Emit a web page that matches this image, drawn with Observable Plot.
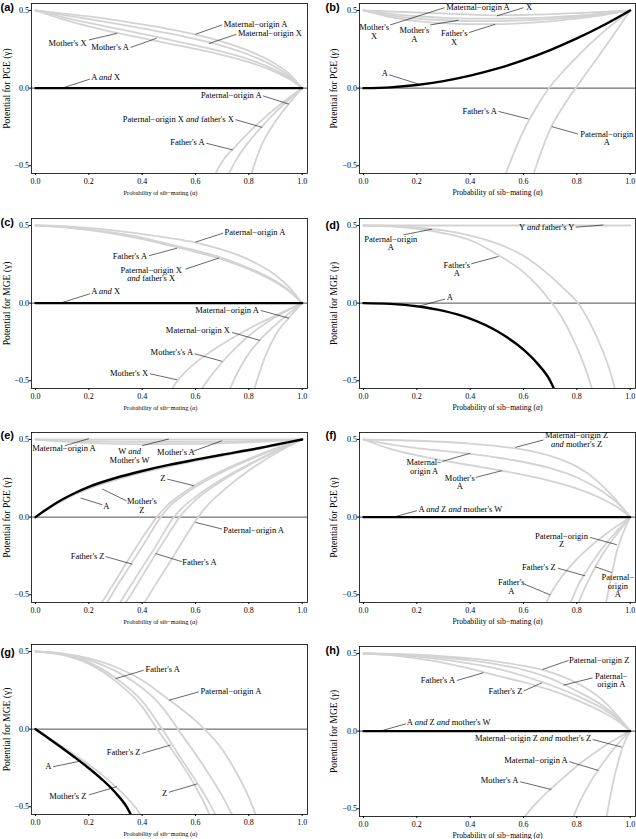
<!DOCTYPE html>
<html><head><meta charset="utf-8">
<script src="https://cdn.jsdelivr.net/npm/d3@7"></script>
<script src="https://cdn.jsdelivr.net/npm/@observablehq/plot@0.6"></script>
<style>
body{margin:0;background:#fff;}
#fig{position:relative;width:636px;height:839px;overflow:hidden;background:#fff;}
#fig svg{position:absolute;}
</style></head><body><div id="fig"></div>
<script>
// ---------- axis ticks ----------
const xTicks = [0, 0.2, 0.4, 0.6, 0.8, 1.0];
const yTicks = [-0.5, 0, 0.5];

// ---------- (a) PGE ----------
const aMaternalOriginA = [[0,0.5],[0.1,0.482],[0.2,0.462],[0.3,0.438],[0.4,0.41],[0.5,0.38],[0.6,0.345],[0.7,0.3],[0.8,0.24],[0.9,0.155],[0.95,0.095],[1,0]];
const aMaternalOriginX = [[0,0.5],[0.1,0.472],[0.2,0.445],[0.3,0.415],[0.4,0.385],[0.5,0.352],[0.6,0.315],[0.7,0.272],[0.8,0.215],[0.9,0.135],[0.95,0.08],[1,0]];
const aMothersA = [[0,0.5],[0.1,0.458],[0.2,0.42],[0.3,0.385],[0.4,0.35],[0.5,0.312],[0.6,0.275],[0.7,0.235],[0.8,0.185],[0.9,0.115],[0.95,0.068],[1,0]];
const aMothersX = [[0,0.5],[0.1,0.445],[0.2,0.398],[0.3,0.358],[0.4,0.322],[0.5,0.287],[0.6,0.252],[0.7,0.213],[0.8,0.167],[0.9,0.103],[0.95,0.06],[1,0]];
const aPaternalOriginA = [[0.8,-0.6],[0.81,-0.55],[0.825,-0.47],[0.85,-0.36],[0.9,-0.215],[0.95,-0.1],[1,0]];
const aPaternalOriginX = [[0.72,-0.57],[0.73,-0.535],[0.75,-0.47],[0.8,-0.345],[0.85,-0.245],[0.9,-0.155],[0.95,-0.075],[1,0]];
const aFathersA = [[0.67,-0.57],[0.68,-0.535],[0.7,-0.475],[0.75,-0.375],[0.8,-0.285],[0.85,-0.205],[0.9,-0.13],[0.95,-0.062],[1,0]];
const aAandX = [[0,0],[1,0]];

// ---------- (b) PGE ----------
const bX = [[0,0.5],[0.2,0.487],[0.4,0.474],[0.5,0.469],[0.6,0.471],[0.8,0.483],[1,0.5]];
const bMaternalOriginA = [[0,0.5],[0.1,0.478],[0.2,0.463],[0.3,0.453],[0.4,0.448],[0.5,0.447],[0.6,0.45],[0.7,0.456],[0.8,0.466],[0.9,0.481],[1,0.5]];
const bMothersA = [[0,0.5],[0.1,0.468],[0.2,0.448],[0.3,0.437],[0.4,0.432],[0.5,0.432],[0.6,0.436],[0.7,0.445],[0.8,0.458],[0.9,0.476],[1,0.5]];
const bFathersX = [[0,0.5],[0.1,0.458],[0.2,0.432],[0.3,0.418],[0.4,0.412],[0.5,0.412],[0.6,0.418],[0.7,0.43],[0.8,0.447],[0.9,0.47],[1,0.5]];
const bFathersA = [[0.53,-0.57],[0.545,-0.5],[0.575,-0.37],[0.6,-0.275],[0.65,-0.12],[0.7,0.01],[0.75,0.11],[0.8,0.2],[0.85,0.285],[0.9,0.362],[0.95,0.433],[1,0.5]];
const bPaternalOriginA = [[0.635,-0.57],[0.65,-0.49],[0.675,-0.37],[0.7,-0.265],[0.75,-0.115],[0.8,0.01],[0.85,0.13],[0.9,0.25],[0.95,0.375],[1,0.5]];
const bA = [[0,0],[0.1,0.005],[0.2,0.02],[0.3,0.045],[0.4,0.08],[0.5,0.125],[0.6,0.18],[0.7,0.245],[0.8,0.32],[0.9,0.405],[1,0.5]];

// ---------- (c) MGE ----------
const cPaternalOriginA = [[0,0.5],[0.1,0.496],[0.2,0.484],[0.3,0.467],[0.4,0.445],[0.5,0.42],[0.6,0.39],[0.7,0.345],[0.8,0.28],[0.9,0.18],[0.95,0.105],[1,0]];
const cFathersA = [[0,0.5],[0.1,0.492],[0.2,0.475],[0.3,0.452],[0.4,0.422],[0.5,0.38],[0.6,0.34],[0.7,0.292],[0.8,0.226],[0.9,0.142],[0.95,0.083],[1,0]];
const cPaternalOriginX = [[0,0.5],[0.1,0.49],[0.2,0.47],[0.3,0.445],[0.4,0.412],[0.5,0.372],[0.6,0.33],[0.7,0.282],[0.8,0.218],[0.9,0.135],[0.95,0.078],[1,0]];
const cMaternalOriginA = [[0.815,-0.58],[0.83,-0.5],[0.86,-0.35],[0.9,-0.205],[0.95,-0.095],[1,0]];
const cMaternalOriginX = [[0.72,-0.59],[0.735,-0.53],[0.76,-0.44],[0.8,-0.325],[0.84,-0.24],[0.9,-0.14],[0.95,-0.068],[1,0]];
const cMothersA = [[0.615,-0.58],[0.63,-0.535],[0.66,-0.465],[0.7,-0.38],[0.75,-0.29],[0.8,-0.21],[0.85,-0.145],[0.9,-0.09],[0.95,-0.042],[1,0]];
const cMothersX = [[0.505,-0.58],[0.52,-0.53],[0.55,-0.465],[0.6,-0.385],[0.7,-0.265],[0.8,-0.165],[0.9,-0.08],[1,0]];
const cAandX = [[0,0],[1,0]];

// ---------- (d) MGE ----------
const dYandFathersY = [[0,0.5],[1,0.5]];
const dPaternalOriginA = [[0,0.5],[0.1,0.497],[0.2,0.487],[0.3,0.468],[0.4,0.435],[0.5,0.385],[0.6,0.305],[0.7,0.175],[0.75,0.095],[0.8,0.01],[0.85,-0.13],[0.9,-0.32],[0.93,-0.47],[0.945,-0.57]];
const dFathersA = [[0,0.5],[0.1,0.494],[0.2,0.478],[0.3,0.45],[0.4,0.405],[0.5,0.315],[0.6,0.2],[0.65,0.118],[0.7,0.015],[0.75,-0.11],[0.8,-0.285],[0.84,-0.46],[0.86,-0.57]];
const dA = [[0,0],[0.1,-0.005],[0.2,-0.02],[0.3,-0.05],[0.4,-0.1],[0.5,-0.18],[0.6,-0.3],[0.65,-0.385],[0.7,-0.5],[0.72,-0.575]];

// ---------- (e) PGE ----------
const eWandMothersW = [[0,0.5],[1,0.5]];
const eMaternalOriginA = [[0,0.5],[0.2,0.49],[0.4,0.485],[0.6,0.485],[0.8,0.49],[1,0.5]];
const eMothersA = [[0,0.5],[0.2,0.478],[0.4,0.47],[0.6,0.472],[0.8,0.482],[1,0.5]];
const eMothersZ = [[0,0],[0.05,0.055],[0.1,0.104],[0.15,0.147],[0.2,0.183],[0.3,0.24],[0.4,0.286],[0.5,0.326],[0.6,0.361],[0.7,0.394],[0.8,0.426],[0.9,0.462],[1,0.5]];
const eZ = [[0.245,-0.56],[0.3,-0.41],[0.35,-0.27],[0.4,-0.135],[0.455,0],[0.5,0.085],[0.55,0.15],[0.6,0.208],[0.7,0.3],[0.8,0.375],[0.9,0.443],[1,0.5]];
const eFathersZ = [[0.26,-0.575],[0.3,-0.46],[0.35,-0.325],[0.4,-0.19],[0.47,0],[0.5,0.065],[0.55,0.135],[0.6,0.195],[0.7,0.29],[0.8,0.368],[0.9,0.438],[1,0.5]];
const eFathersW = [[0.31,-0.57],[0.35,-0.46],[0.4,-0.325],[0.45,-0.19],[0.519,0],[0.55,0.06],[0.6,0.13],[0.7,0.245],[0.8,0.34],[0.9,0.425],[1,0.5]];
const eFathersA = [[0.33,-0.57],[0.35,-0.52],[0.4,-0.38],[0.45,-0.24],[0.5,-0.105],[0.54,0],[0.6,0.11],[0.7,0.235],[0.8,0.335],[0.9,0.422],[1,0.5]];
const ePaternalOriginA = [[0.4,-0.575],[0.45,-0.435],[0.5,-0.3],[0.55,-0.16],[0.61,0],[0.65,0.085],[0.7,0.165],[0.8,0.3],[0.9,0.41],[1,0.5]];
const eA = [[0,0],[0.05,0.06],[0.1,0.113],[0.15,0.157],[0.2,0.195],[0.3,0.252],[0.4,0.297],[0.5,0.336],[0.6,0.37],[0.7,0.402],[0.8,0.432],[0.9,0.466],[1,0.5]];

// ---------- (f) PGE ----------
const fMaternalOriginZ = [[0,0.5],[0.2,0.492],[0.4,0.474],[0.5,0.458],[0.6,0.435],[0.7,0.395],[0.8,0.325],[0.85,0.27],[0.9,0.195],[0.95,0.105],[1,0]];
const fMaternalOriginA = [[0,0.5],[0.1,0.468],[0.2,0.445],[0.3,0.426],[0.4,0.407],[0.5,0.384],[0.6,0.355],[0.7,0.315],[0.8,0.255],[0.9,0.16],[0.95,0.095],[1,0]];
const fMothersA = [[0,0.5],[0.1,0.44],[0.2,0.398],[0.3,0.364],[0.4,0.334],[0.5,0.305],[0.6,0.272],[0.7,0.233],[0.8,0.183],[0.9,0.113],[0.95,0.066],[1,0]];
const fFathersA = [[0.675,-0.58],[0.69,-0.535],[0.7,-0.5],[0.75,-0.37],[0.8,-0.27],[0.85,-0.19],[0.9,-0.12],[0.95,-0.058],[1,0]];
const fFathersZ = [[0.77,-0.58],[0.78,-0.54],[0.8,-0.455],[0.83,-0.365],[0.87,-0.26],[0.9,-0.19],[0.95,-0.09],[1,0]];
const fPaternalOriginA = [[0.8,-0.58],[0.81,-0.535],[0.84,-0.42],[0.87,-0.32],[0.9,-0.23],[0.95,-0.11],[1,0]];
const fPaternalOriginZ = [[0.905,-0.58],[0.912,-0.53],[0.92,-0.46],[0.93,-0.375],[0.94,-0.295],[0.95,-0.22],[0.965,-0.14],[0.98,-0.075],[1,0]];
const fAandZ = [[0,0],[1,0]];

// ---------- (g) MGE ----------
const gFathersZ = [[0,0.5],[0.1,0.478],[0.2,0.42],[0.3,0.31],[0.4,0.145],[0.456,0],[0.5,-0.105],[0.55,-0.23],[0.6,-0.37],[0.65,-0.54],[0.66,-0.58]];
const gZ = [[0,0.5],[0.1,0.482],[0.2,0.43],[0.3,0.33],[0.4,0.18],[0.475,0],[0.5,-0.065],[0.55,-0.2],[0.6,-0.33],[0.65,-0.47],[0.68,-0.57]];
const gFathersA = [[0,0.5],[0.1,0.485],[0.2,0.445],[0.3,0.375],[0.4,0.265],[0.45,0.19],[0.5,0.085],[0.534,0],[0.6,-0.16],[0.65,-0.29],[0.7,-0.43],[0.74,-0.56]];
const gPaternalOriginA = [[0,0.5],[0.1,0.488],[0.2,0.455],[0.3,0.4],[0.4,0.315],[0.5,0.19],[0.55,0.125],[0.6,0.055],[0.634,0],[0.7,-0.13],[0.75,-0.27],[0.8,-0.44],[0.83,-0.57]];
const gMothersZ = [[0,0],[0.05,-0.056],[0.1,-0.112],[0.15,-0.17],[0.2,-0.23],[0.25,-0.295],[0.3,-0.37],[0.35,-0.455],[0.39,-0.54],[0.4,-0.57]];
const gA = [[0,0],[0.05,-0.06],[0.1,-0.122],[0.15,-0.185],[0.2,-0.252],[0.25,-0.325],[0.3,-0.41],[0.35,-0.525],[0.36,-0.56]];

// ---------- (h) MGE ----------
const hPaternalOriginZ = [[0,0.5],[0.2,0.492],[0.4,0.468],[0.5,0.448],[0.6,0.42],[0.7,0.38],[0.8,0.31],[0.85,0.26],[0.9,0.195],[0.95,0.105],[1,0]];
const hPaternalOriginA = [[0,0.5],[0.2,0.487],[0.4,0.455],[0.5,0.43],[0.6,0.395],[0.7,0.34],[0.75,0.302],[0.8,0.258],[0.9,0.16],[0.95,0.093],[1,0]];
const hFathersZ = [[0,0.5],[0.2,0.48],[0.4,0.435],[0.5,0.403],[0.6,0.355],[0.67,0.315],[0.7,0.297],[0.8,0.228],[0.9,0.142],[0.95,0.083],[1,0]];
const hFathersA = [[0,0.5],[0.1,0.49],[0.2,0.468],[0.3,0.44],[0.4,0.402],[0.45,0.38],[0.5,0.358],[0.6,0.315],[0.7,0.265],[0.8,0.2],[0.9,0.12],[0.95,0.07],[1,0]];
const hMaternalOriginZ = [[0.905,-0.6],[0.913,-0.54],[0.92,-0.47],[0.93,-0.38],[0.94,-0.3],[0.955,-0.2],[0.97,-0.11],[0.985,-0.05],[1,0]];
const hMaternalOriginA = [[0.78,-0.59],[0.79,-0.54],[0.81,-0.46],[0.85,-0.33],[0.88,-0.25],[0.92,-0.155],[0.96,-0.07],[1,0]];
const hMothersA = [[0.595,-0.58],[0.61,-0.54],[0.65,-0.46],[0.7,-0.375],[0.75,-0.3],[0.8,-0.225],[0.85,-0.16],[0.9,-0.1],[0.95,-0.048],[1,0]];
const hAandZ = [[0,0],[1,0]];

// ---------- annotations (data coordinates) ----------
const aLabels = [
 {text:"Maternal−origin A", x:0.706, y:0.411, anchor:"start"},
 {text:"Maternal−origin X", x:0.759, y:0.351, anchor:"start"},
 {text:"Mother's X", x:0.192, y:0.289, anchor:"end"},
 {text:"Mother's A", x:0.35, y:0.261, anchor:"end"},
 {text:"A and X", x:0.209, y:0.073, anchor:"start"},
 {text:"Paternal−origin A", x:0.848, y:-0.045, anchor:"end"},
 {text:"Paternal−origin X and father's X", x:0.744, y:-0.199, anchor:"end"},
 {text:"Father's A", x:0.634, y:-0.349, anchor:"end"}];
const aPointers = [[0.7,0.407,0.6,0.347],[0.754,0.347,0.65,0.287],[0.2,0.31,0.306,0.353],[0.357,0.262,0.454,0.321],[0.204,0.058,0.1,0],[0.853,-0.05,0.95,-0.103],[0.75,-0.203,0.85,-0.253],[0.64,-0.355,0.74,-0.398]];

const bLabels = [
 {text:"Maternal−origin A", x:0.31, y:0.522, anchor:"start"},
 {text:"Mother's\nX", x:0.04, y:0.39, anchor:"middle"},
 {text:"Mother's\nA", x:0.191, y:0.373, anchor:"middle"},
 {text:"Father's\nX", x:0.34, y:0.351, anchor:"middle"},
 {text:"X", x:0.609, y:0.522, anchor:"start"},
 {text:"A", x:0.091, y:0.094, anchor:"end"},
 {text:"Father's A", x:0.5, y:-0.146, anchor:"end"},
 {text:"Paternal−origin\nA", x:0.9125, y:-0.296, anchor:"middle"}];
const bPointers = [[0.304,0.518,0.1,0.407],[0.25,0.407,0.356,0.437],[0.396,0.358,0.494,0.411],[0.6,0.518,0.5,0.465],[0.096,0.086,0.206,0.026],[0.506,-0.15,0.619,-0.199],[0.804,-0.296,0.706,-0.248]];

const cLabels = [
 {text:"Paternal−origin A", x:0.709, y:0.455, anchor:"start"},
 {text:"Father's A", x:0.419, y:0.3, anchor:"end"},
 {text:"Paternal−origin X\nand father's X", x:0.434, y:0.215, anchor:"middle"},
 {text:"A and X", x:0.209, y:0.075, anchor:"start"},
 {text:"Maternal−origin A", x:0.8375, y:-0.043, anchor:"end"},
 {text:"Maternal−origin X", x:0.729, y:-0.172, anchor:"end"},
 {text:"Mother's's A", x:0.591, y:-0.318, anchor:"end"},
 {text:"Mother's X", x:0.4225, y:-0.451, anchor:"end"}];
const cPointers = [[0.704,0.451,0.6,0.393],[0.425,0.305,0.531,0.354],[0.5625,0.219,0.6875,0.29],[0.204,0.06,0.1,0.004],[0.844,-0.047,0.95,-0.097],[0.7375,-0.189,0.841,-0.24],[0.596,-0.326,0.7,-0.375],[0.429,-0.455,0.531,-0.494]];

const dLabels = [
 {text:"Paternal−origin\nA", x:0.1025, y:0.412, anchor:"middle"},
 {text:"Y and father's Y", x:0.791, y:0.489, anchor:"end"},
 {text:"Father's\nA", x:0.35, y:0.247, anchor:"middle"},
 {text:"A", x:0.3125, y:0.039, anchor:"start"}];
const dPointers = [[0.15,0.44,0.256,0.476],[0.796,0.489,0.9,0.503],[0.404,0.253,0.506,0.3],[0.306,0.026,0.206,-0.021]];

const eLabels = [
 {text:"Maternal−origin A", x:-0.0125, y:0.445, anchor:"start"},
 {text:"W and\nMother's W", x:0.3525, y:0.424, anchor:"middle"},
 {text:"Mother's A", x:0.456, y:0.417, anchor:"start"},
 {text:"Z", x:0.4875, y:0.252, anchor:"end"},
 {text:"Mother's\nZ", x:0.399, y:0.101, anchor:"middle"},
 {text:"A", x:0.254, y:0.073, anchor:"start"},
 {text:"Paternal−origin A", x:0.704, y:-0.084, anchor:"start"},
 {text:"Father's Z", x:0.259, y:-0.249, anchor:"end"},
 {text:"Father's A", x:0.55, y:-0.292, anchor:"start"}];
const ePointers = [[0.11,0.46,0.2,0.505],[0.4,0.46,0.5,0.503],[0.591,0.424,0.7,0.492],[0.494,0.245,0.594,0.202],[0.341,0.105,0.25,0.181],[0.25,0.08,0.169,0.123],[0.7,-0.077,0.6,-0.034],[0.2625,-0.254,0.3625,-0.303],[0.55,-0.288,0.45,-0.234]];

const fLabels = [
 {text:"Maternal−origin Z\nand mother's Z", x:0.799, y:0.525, anchor:"middle"},
 {text:"Maternal−\norigin A", x:0.2275, y:0.353, anchor:"middle"},
 {text:"Mother's\nA", x:0.361, y:0.252, anchor:"middle"},
 {text:"A and Z and mother's W", x:0.206, y:0.052, anchor:"start"},
 {text:"Paternal−origin\nZ", x:0.7425, y:-0.12, anchor:"middle"},
 {text:"Father's Z", x:0.721, y:-0.325, anchor:"end"},
 {text:"Father's\nA", x:0.554, y:-0.422, anchor:"middle"},
 {text:"Paternal−\norigin\nA", x:0.954, y:-0.389, anchor:"middle"}];
const fPointers = [[0.675,0.497,0.569,0.449],[0.296,0.359,0.4,0.411],[0.421,0.256,0.519,0.299],[0.2,0.041,0.1125,0],[0.85,-0.131,0.95,-0.178],[0.729,-0.329,0.831,-0.378],[0.604,-0.432,0.7,-0.501],[0.931,-0.357,0.869,-0.32]];

const gLabels = [
 {text:"Father's A", x:0.4125, y:0.383, anchor:"start"},
 {text:"Paternal−origin A", x:0.619, y:0.244, anchor:"start"},
 {text:"Father's Z", x:0.394, y:-0.152, anchor:"end"},
 {text:"A", x:0.06, y:-0.242, anchor:"end"},
 {text:"Mother's Z", x:0.191, y:-0.43, anchor:"end"},
 {text:"Z", x:0.494, y:-0.413, anchor:"end"}];
const gPointers = [[0.406,0.379,0.3,0.325],[0.6125,0.24,0.5,0.186],[0.4,-0.156,0.506,-0.103],[0.066,-0.242,0.169,-0.206],[0.2,-0.424,0.306,-0.37],[0.5,-0.407,0.606,-0.353]];

const hLabels = [
 {text:"Paternal−origin Z", x:0.771, y:0.455, anchor:"start"},
 {text:"Paternal−\norigin A", x:0.929, y:0.354, anchor:"middle"},
 {text:"Father's A", x:0.344, y:0.326, anchor:"end"},
 {text:"Father's Z", x:0.596, y:0.258, anchor:"end"},
 {text:"A and Z and mother's W", x:0.1625, y:0.058, anchor:"start"},
 {text:"Maternal−origin Z and mother's Z", x:0.854, y:-0.047, anchor:"end"},
 {text:"Maternal−origin A", x:0.766, y:-0.189, anchor:"end"},
 {text:"Mother's A", x:0.581, y:-0.318, anchor:"end"}];
const hPointers = [[0.769,0.455,0.671,0.397],[0.859,0.343,0.75,0.296],[0.35,0.326,0.45,0.376],[0.6,0.258,0.669,0.311],[0.159,0.047,0.0625,0],[0.859,-0.054,0.969,-0.103],[0.771,-0.197,0.881,-0.253],[0.5875,-0.326,0.704,-0.376]];

// ---------- panel table ----------
const PGE = "Potential for PGE (γ)", MGE = "Potential for MGE (γ)", XT = "Probability of sib−mating (α)";
const panels = [
 {id:"a", col:0, top:3,    yTitle:PGE, it:false, labDy:4.3, gray:[aMaternalOriginA,aMaternalOriginX,aMothersA,aMothersX,aPaternalOriginA,aPaternalOriginX,aFathersA], black:[aAandX], labels:aLabels, pointers:aPointers},
 {id:"b", col:1, top:3,    yTitle:PGE, it:true,  labDy:4,   gray:[bX,bMaternalOriginA,bMothersA,bFathersX,bFathersA,bPaternalOriginA], black:[bA], labels:bLabels, pointers:bPointers},
 {id:"c", col:0, top:218,  yTitle:MGE, it:false, labDy:4.3, gray:[cPaternalOriginA,cFathersA,cPaternalOriginX,cMaternalOriginA,cMaternalOriginX,cMothersA,cMothersX], black:[cAandX], labels:cLabels, pointers:cPointers},
 {id:"d", col:1, top:218,  yTitle:MGE, it:true,  labDy:7,   gray:[dYandFathersY,dPaternalOriginA,dFathersA], black:[dA], labels:dLabels, pointers:dPointers},
 {id:"e", col:0, top:432,  yTitle:PGE, it:false, labDy:2.7, gray:[eWandMothersW,eMaternalOriginA,eMothersA,eMothersZ,eZ,eFathersZ,eFathersW,eFathersA,ePaternalOriginA], black:[eA], labels:eLabels, pointers:ePointers},
 {id:"f", col:1, top:432,  yTitle:PGE, it:false, labDy:3,   gray:[fMaternalOriginZ,fMaternalOriginA,fMothersA,fFathersA,fFathersZ,fPaternalOriginA,fPaternalOriginZ], black:[fAandZ], labels:fLabels, pointers:fPointers},
 {id:"g", col:0, top:644,  yTitle:MGE, it:false, labDy:8,   gray:[gFathersZ,gZ,gFathersA,gPaternalOriginA,gMothersZ], black:[gA], labels:gLabels, pointers:gPointers},
 {id:"h", col:1, top:645.5,yTitle:MGE, it:true,  labDy:3.8, gray:[hPaternalOriginZ,hPaternalOriginA,hFathersZ,hFathersA,hMaternalOriginZ,hMaternalOriginA,hMothersA], black:[hAandZ], labels:hLabels, pointers:hPointers}
];

const GRAY = "#d3d3d3";
const SERIF = "'Liberation Serif', 'Times New Roman', serif";
const fig = document.getElementById("fig");

function italicize(svg, greek) {
  const pat = greek ? /(\band\b|[γα])/ : /(\band\b)/;
  const targets = [];
  svg.querySelectorAll("text").forEach(t => {
    const ts = t.querySelectorAll("tspan");
    if (ts.length) ts.forEach(s => targets.push(s)); else targets.push(t);
  });
  targets.forEach(el => {
    const s = el.textContent;
    if (!pat.test(s)) return;
    const parts = s.split(pat);
    while (el.firstChild) el.removeChild(el.firstChild);
    parts.forEach((part, i) => {
      if (!part) return;
      if (i % 2 === 1) {
        const sp = document.createElementNS("http://www.w3.org/2000/svg", "tspan");
        sp.setAttribute("font-style", "italic");
        sp.textContent = part;
        el.appendChild(sp);
      } else el.appendChild(document.createTextNode(part));
    });
  });
}

const rows = arr => arr.map(([x, y]) => ({x, y}));

panels.forEach(p => {
  const left = p.col === 0;
  const mL = left ? 31 : 41, mR = left ? 11 : 1;
  const marks = [];
  marks.push(Plot.ruleY([0], {stroke: "black", strokeWidth: 0.7}));
  p.gray.forEach(c => marks.push(Plot.line(rows(c), {x: "x", y: "y", stroke: GRAY, strokeWidth: 1.8, curve: "monotone-x", clip: true})));
  p.black.forEach(c => marks.push(Plot.line(rows(c), {x: "x", y: "y", stroke: "black", strokeWidth: 2.4, curve: "monotone-x", clip: true})));
  marks.push(Plot.link(p.pointers, {x1: d => d[0], y1: d => d[1], x2: d => d[2], y2: d => d[3], stroke: "black", strokeWidth: 0.6}));
  ["start", "end", "middle"].forEach(anchor => {
    const single = p.labels.filter(d => d.anchor === anchor && !d.text.includes("\n"));
    const multi = p.labels.filter(d => d.anchor === anchor && d.text.includes("\n"));
    if (single.length) marks.push(Plot.text(single, {x: "x", y: "y", text: "text", textAnchor: anchor, lineAnchor: "middle", fontSize: 8.5, fill: "black"}));
    if (multi.length) marks.push(Plot.text(multi, {x: "x", y: "y", text: "text", textAnchor: anchor, lineAnchor: "top", dy: -3.2, lineHeight: 1.0, fontSize: 8.5, fill: "black"}));
  });
  marks.push(Plot.frame({stroke: "black", strokeWidth: 0.8}));
  marks.push(Plot.axisX(xTicks, {tickFormat: d3.format(".1f"), tickSize: 2, tickPadding: 3, label: null, fontSize: 8}));
  marks.push(Plot.axisY(yTicks, {tickFormat: d3.format(".1f"), tickSize: 2, tickPadding: 0.5, label: null, fontSize: 8}));
  marks.push(Plot.text([p.yTitle], {frameAnchor: "left", textAnchor: "middle", lineAnchor: "middle", rotate: -90, dx: left ? -25 : -26, fontSize: 9.5, text: d => d}));
  marks.push(Plot.text([XT], {frameAnchor: "bottom", textAnchor: "middle", lineAnchor: "middle", dy: 19, dx: left ? -9 : 0, fontSize: left ? 6.3 : 7.7, text: d => d}));
  marks.push(Plot.text([`(${p.id})`], {frameAnchor: "top-left", dx: left ? -31 : -34, dy: p.labDy, textAnchor: "start", lineAnchor: "middle", fontFamily: "'Liberation Sans', Arial, sans-serif", fontWeight: "bold", fontSize: 11, text: d => d}));

  const svg = Plot.plot({
    width: 318, height: 210,
    marginLeft: mL, marginRight: mR, marginTop: 5, marginBottom: 35,
    x: {domain: [-0.015, 1.02]},
    y: {domain: [-0.55, 0.545]},
    style: {fontFamily: SERIF, fontSize: "8px", background: "transparent", overflow: "visible", color: "black"},
    marks
  });
  svg.style.left = (left ? 0 : 318) + "px";
  svg.style.top = (p.top - 5) + "px";
  italicize(svg, p.it);
  fig.appendChild(svg);
});
</script></body></html>
